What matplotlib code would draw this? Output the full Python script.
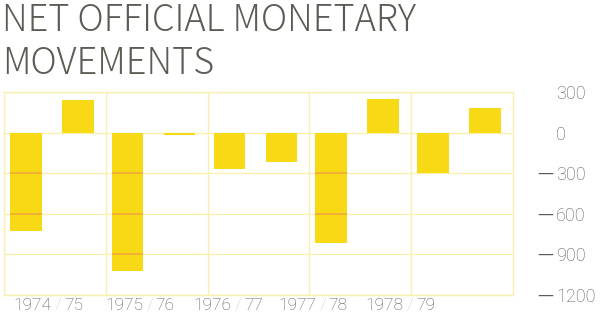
import matplotlib
matplotlib.use("Agg")
import matplotlib.pyplot as plt
import numpy as np

# net official monetary movements, two half-years per fiscal year
years = ["1974", "1975", "1976", "1977", "1978"]
years_end = ["75", "76", "77", "78", "79"]
first_half = [-730, -1022, -270, -815, -300]
second_half = [238, -15, -220, 251, 184]
yticks = [300, 0, -300, -600, -900, -1200]
label_pos = [0.53, 1.43, 2.30, 3.13, 3.99]

bar_col = "#f7d916"
grid_col = "#f9f0b0"
mark_col = "#f0a93a"
text_col = "#5c5c55"

fig = plt.figure(figsize=(6, 3.29), dpi=100)
ax = fig.add_axes([0.0067, 0.1033, 0.848, 0.617])

x = np.arange(len(years))
w = 0.31
x1 = x + 0.215
x2 = x + 0.725

ax.bar(x1, first_half, width=w, color=bar_col, zorder=2)
ax.bar(x2, second_half, width=w, color=bar_col, zorder=2)

# pale grid behind the bars
for v in yticks:
    ax.axhline(v, color=grid_col, lw=1.0, zorder=1)
for g in range(1, len(years)):
    ax.axvline(g, color=grid_col, lw=1.0, zorder=1)

# gridlines show through the bars in orange
for xs, vals in ((x1, first_half), (x2, second_half)):
    for xc, v in zip(xs, vals):
        for g in yticks:
            if g != 0 and min(0, v) < g < max(0, v):
                ax.hlines(g, xc - w / 2, xc + w / 2, color=mark_col, lw=1.2, zorder=3)

ax.set_xlim(0, len(years))
ax.set_ylim(-1200, 300)
for s in ax.spines.values():
    s.set_color(grid_col)
    s.set_linewidth(1.0)

# right-hand labels: digits line up on the left, minus sign hangs out
ax.yaxis.tick_right()
ax.set_yticks(yticks)
ax.set_yticklabels([str(abs(v)) for v in yticks])
ax.tick_params(axis="y", length=0, pad=31, labelsize=13, labelcolor=text_col)
for t in ax.get_yticklabels():
    t.set_fontfamily("Roboto")
    t.set_fontweight("light")
for v in yticks:
    if v < 0:
        ax.annotate("\u2014", (1, v), xycoords=("axes fraction", "data"),
                    xytext=(29, 0), textcoords="offset points", ha="right",
                    va="center", fontsize=11.5, color=text_col,
                    family="DejaVu Sans", annotation_clip=False)

ax.set_xticks([])
lab = dict(xycoords="data", textcoords="offset points", va="center",
           fontsize=12.5, family="Roboto", fontweight="light",
           annotation_clip=False)
for p, a, b in zip(label_pos, years, years_end):
    ax.annotate(a, (p, -1280), xytext=(-4.5, 0), ha="right", color=text_col, **lab)
    ax.annotate("/", (p, -1280), xytext=(0, 0), ha="center", color="#cfcfbc", **lab)
    ax.annotate(b, (p, -1280), xytext=(4.5, 0), ha="left", color=text_col, **lab)

fig.text(0.003, 1 - 31 / 329, "NET OFFICIAL MONETARY", fontsize=26,
         color=text_col, family="Noto Sans CJK JP", fontweight="light", va="baseline")
fig.text(0.003, 1 - 74 / 329, "MOVEMENTS", fontsize=26,
         color=text_col, family="Noto Sans CJK JP", fontweight="light", va="baseline")

fig.savefig("out.png", dpi=100)
